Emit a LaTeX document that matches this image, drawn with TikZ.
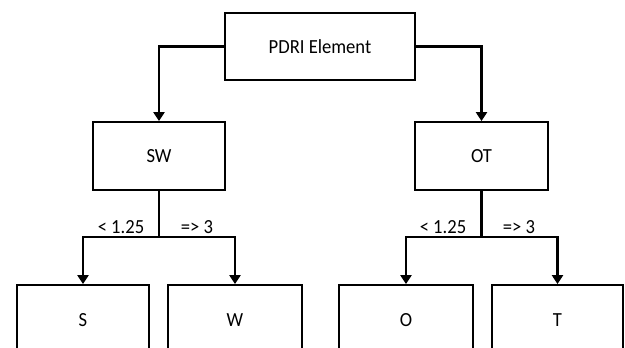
\documentclass[tikz,border=0pt]{standalone}
\usepackage{fontspec}
\setmainfont{Carlito}[FakeStretch=0.93]
\usetikzlibrary{arrows.meta}
\begin{document}
\begin{tikzpicture}[x=1pt,y=-1pt,
  box/.style={draw,line width=1.8pt,inner sep=0pt,font=\fontsize{20}{24}\selectfont},
  conn/.style={line width=2.3pt},
  arr/.style={conn,-{Triangle[width=11pt,length=9pt]}},
  lbl/.style={inner sep=0pt,font=\fontsize{20}{24}\selectfont}]
\useasboundingbox (0,0) rectangle (625,348);
\clip (0,0) rectangle (625,348);
\fill[white] (0,0) rectangle (625,348);
\node[box,minimum width=190pt,minimum height=67pt] (p) at (320,46.5) {PDRI Element};
\node[box,minimum width=132pt,minimum height=68pt] (sw) at (159,156) {SW};
\node[box,minimum width=133pt,minimum height=68pt] (ot) at (481.5,156) {OT};
\node[box,minimum width=132pt,minimum height=70pt] (s) at (83,320) {S};
\node[box,minimum width=134pt,minimum height=70pt] (w) at (235,320) {W};
\node[box,minimum width=134pt,minimum height=70pt] (o) at (406,320) {O};
\node[box,minimum width=131pt,minimum height=70pt] (t) at (557.5,320) {T};
\draw[arr] (p.west) -| (sw.north);
\draw[arr] (p.east) -| (ot.north);
\coordinate (jl) at (159,237);
\coordinate (jr) at (481.5,237);
\draw[conn] (sw.south) -- (jl);
\draw[conn] (ot.south) -- (jr);
\draw[arr] (jl) -| (s.north);
\draw[arr] (jl) -| (w.north);
\draw[arr] (jr) -| (o.north);
\draw[arr] (jr) -| (t.north);
\node[lbl] (l1) at (121,227) {< 1.25};
\node[lbl] (l2) at (197,227) {=> 3};
\node[lbl] (l3) at (443,227) {< 1.25};
\node[lbl] (l4) at (519,227) {=> 3};
\end{tikzpicture}
\end{document}
